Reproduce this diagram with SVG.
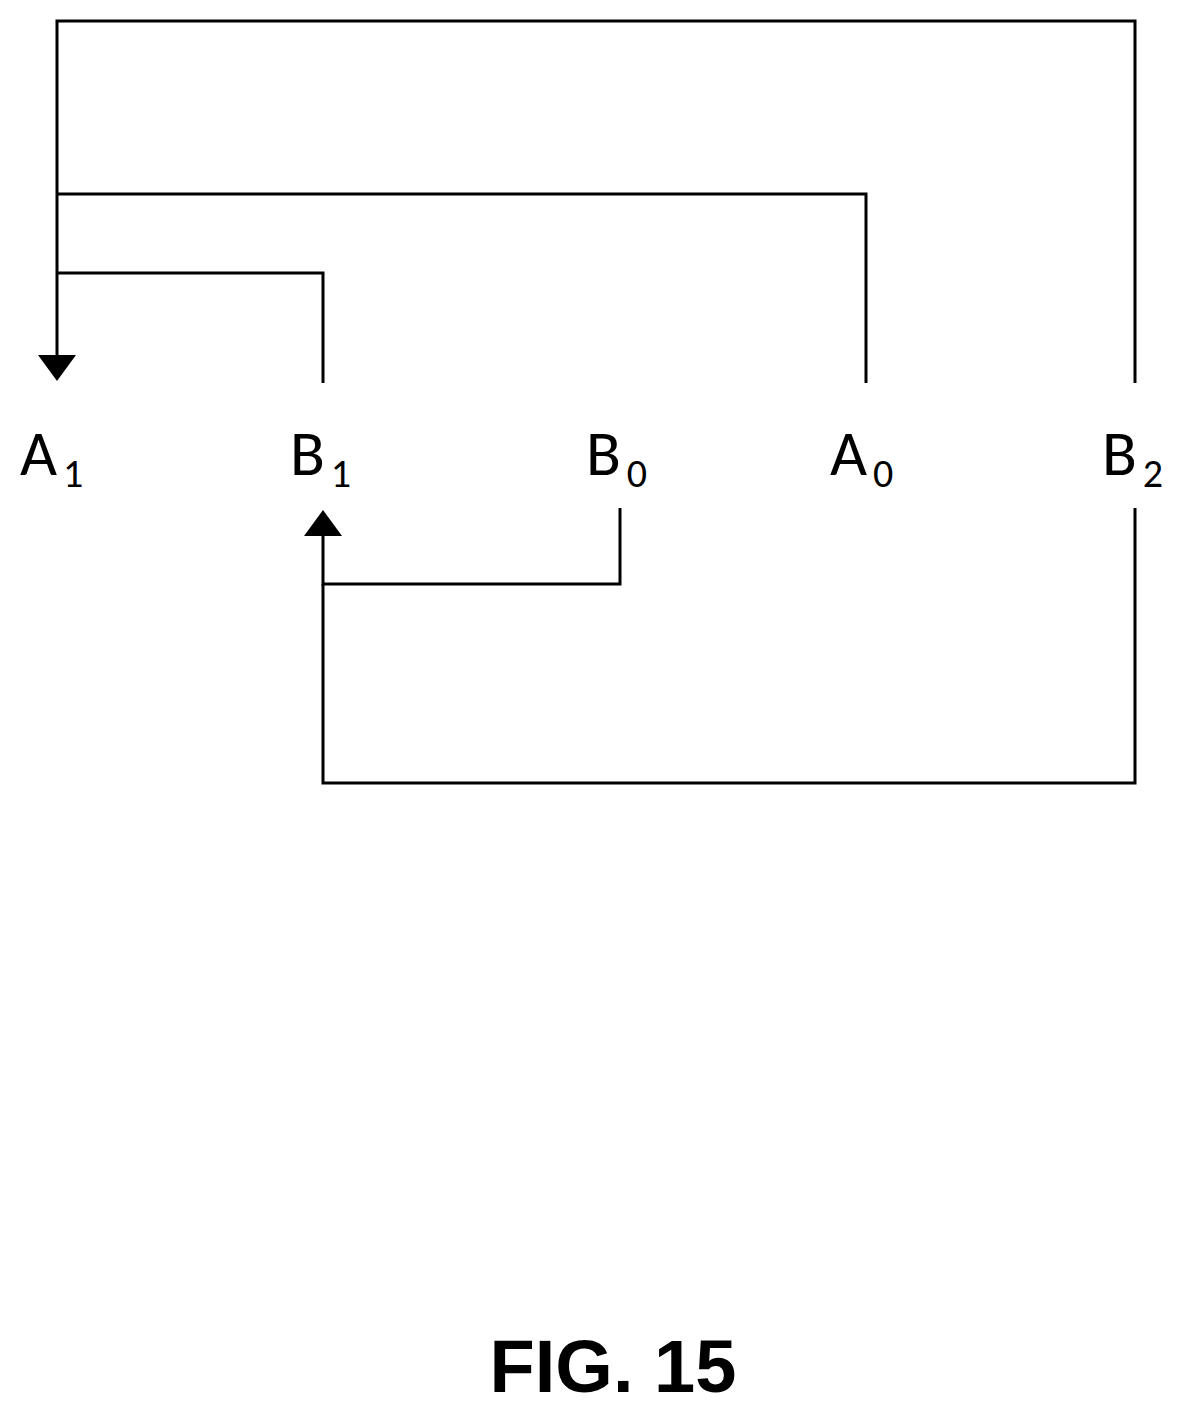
<svg xmlns="http://www.w3.org/2000/svg" width="1184" height="1413" viewBox="0 0 1184 1413">
<style>
.l{fill:none;stroke:#000;stroke-width:3}
.t{font-family:"Carlito","Liberation Sans",sans-serif;font-size:64px;fill:#000}
.s{font-size:40px}
.f{font-family:"Liberation Sans",sans-serif;font-weight:bold;font-size:74px}
</style>
<rect width="1184" height="1413" fill="#fff"/>
<g id="connectors">
<path class="l" d="M1135,383 V21 H57 V355"/>
<path class="l" d="M866,383 V194 H57"/>
<path class="l" d="M323,383 V273 H57"/>
<polygon points="38,355 76,355 57,381"/>
<path class="l" d="M620,508 V584 H323 V536"/>
<path class="l" d="M1135,508 V783 H323 V584"/>
<polygon points="304,536 342,536 323,510"/>
</g>
<g id="A1"><text class="t" x="20" y="475">A<tspan class="s" dx="6" dy="12">1</tspan></text></g>
<g id="B1"><text class="t" x="290" y="475">B<tspan class="s" dx="6" dy="12">1</tspan></text></g>
<g id="B0"><text class="t" x="586" y="475">B<tspan class="s" dx="6" dy="12">0</tspan></text></g>
<g id="A0"><text class="t" x="830" y="475">A<tspan class="s" dx="6" dy="12">0</tspan></text></g>
<g id="B2"><text class="t" x="1102" y="475">B<tspan class="s" dx="6" dy="12">2</tspan></text></g>
<g id="title"><text class="f" x="613" y="1392" text-anchor="middle">FIG. 15</text></g>
</svg>
